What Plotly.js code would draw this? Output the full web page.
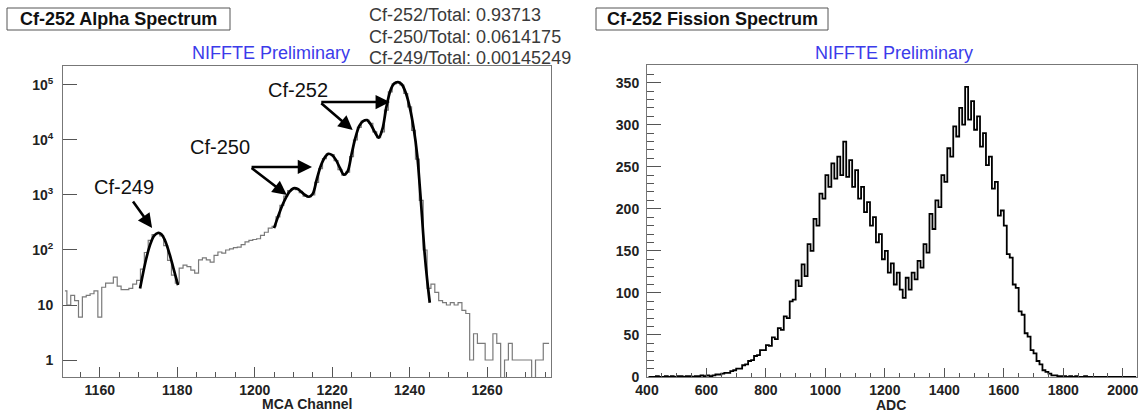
<!DOCTYPE html>
<html>
<head>
<meta charset="utf-8">
<script src="https://cdn.plot.ly/plotly-3.0.1.min.js"></script>
<style>
html,body{margin:0;padding:0;background:#fff;}
#chart{width:1140px;height:417px;}
</style>
</head>
<body>
<div id="chart"></div>
<script>
// ---------------- DATA ----------------
// Alpha spectrum: counts per MCA channel, first bin = 1151
const alphaFirstChannel = 1151;
const alphaCounts = [
  18, 10, 15, 12, 6, 14, 15, 16, 18, 6,
  21, 25, 25, 32, 22, 19, 19, 20, 24, 28,
  45, 90, 150, 190, 200, 180, 120, 65, 35, 25,
  47, 53, 50, 43, 38, 66, 72, 66, 60, 80,
  92, 88, 100, 105, 110, 113, 125, 140, 150, 155,
  160, 185, 210, 250, 270, 400, 650, 950, 1200, 1300,
  1250, 1100, 950, 920, 1000, 1700, 3000, 4600, 5600, 5400,
  4200, 2900, 2300, 2600, 5000, 10000, 17000, 22000, 23000, 20000,
  14000, 11000, 14000, 35000, 75000, 105000, 113000, 100000, 70000, 40000,
  15000, 4500, 800, 100, 20, 24, 17, 12, 11, 10,
  11, 10, 11, 8, 7, 1, 3, 2, 2, 1,
  1, 3, 2, 0, 1, 2, 1, 1, 1, 1,
  1, 0, 1, 1, 2, 2
];
// Fit curves (black)
const fit249Channel = [1170.4, 1171, 1172, 1173, 1174, 1175, 1175.5, 1176, 1177, 1178, 1179, 1180.2];
const fit249Counts  = [20, 33, 70, 125, 180, 203, 202, 190, 140, 85, 47, 23];
const fitMainChannel = [1205, 1206, 1207, 1208, 1209, 1210, 1211, 1212, 1213, 1214, 1215, 1216, 1217, 1218, 1219, 1220,
  1221, 1222, 1223, 1224, 1225, 1226, 1227, 1228, 1229, 1230, 1231, 1232, 1233, 1234, 1235, 1236, 1237, 1238,
  1239, 1240, 1241, 1242, 1242.6, 1243.2, 1243.8, 1244.5, 1245.2];
const fitMainCounts = [250, 400, 620, 880, 1150, 1320, 1300, 1150, 1000, 930, 1050, 1900, 3300, 4700, 5600, 5300,
  4300, 3100, 2350, 2700, 5500, 11000, 18000, 22000, 23000, 19000, 14000, 11000, 16000, 40000, 78000, 106000, 113000, 102000,
  72000, 40000, 17000, 5000, 1500, 400, 100, 30, 11];

// Fission spectrum: counts per 10-ADC bin, first bin starts at 400
const fissionFirstEdge = 400;
const fissionBinWidth = 10;
const fissionCounts = [
  0, 0, 0, 1, 0, 0, 1, 0, 1, 0, 1, 1, 0, 1, 1, 0, 1, 1, 2, 1,
  2, 1, 2, 3, 3, 4, 5, 5, 7, 8,
  10, 10, 14, 15, 19, 20, 25, 26, 32, 32,
  38, 37, 47, 45, 58, 56, 72, 70, 90, 92,
  115, 108, 134, 120, 158, 150, 188, 180, 218, 212,
  240, 226, 254, 236, 262, 240, 280, 238, 258, 226,
  246, 212, 226, 196, 208, 180, 190, 160, 170, 140,
  150, 124, 135, 110, 124, 104, 94, 118, 104, 124,
  116, 138, 130, 158, 148, 194, 176, 210, 202, 240,
  232, 272, 262, 298, 286, 320, 300, 345, 306, 328,
  294, 310, 274, 290, 252, 262, 224, 232, 192, 198,
  180, 146, 142, 110, 106, 78, 74, 52, 48, 32,
  28, 19, 15, 8, 6, 4, 2, 2, 1, 1,
  1, 0, 1, 0, 1, 0, 0, 1, 0, 0,
  0, 0, 0, 0, 0, 0, 0, 0, 0, 0, 0, 0, 0, 0, 0
];

const alphaTickVals = [1, 10, 100, 1000, 10000, 100000];
const alphaTickText = ['1', '10', '10<sup>2</sup>', '10<sup>3</sup>', '10<sup>4</sup>', '10<sup>5</sup>'];
const ratioLines = ['Cf-252/Total: 0.93713', 'Cf-250/Total: 0.0614175', 'Cf-249/Total: 0.00145249'];
const peakLabels = ['Cf-249', 'Cf-250', 'Cf-252'];

// ---------------- BUILD ----------------
const W = 1140, H = 417;
const px = v => v / W;
const py = v => 1 - v / H;

const alphaX = alphaCounts.map((_, i) => alphaFirstChannel + i);
const alphaY = alphaCounts.map(v => Math.max(v, 0.3)); // empty bins drawn to axis floor on log scale

const fissionX = fissionCounts.map((_, i) => fissionFirstEdge + fissionBinWidth * (i + 0.5));

// log-axis minor tick positions (2..9 per decade)
const alphaMinorVals = [];
for (let d = 0.1; d < 1e6; d *= 10) for (let k = 2; k <= 9; k++) alphaMinorVals.push(+(k * d).toPrecision(3));

const FONT = 'Liberation Sans, Arial, Helvetica, sans-serif';

const traces = [
  {x: alphaX, y: alphaY, type: 'scatter', mode: 'lines', line: {shape: 'hvh', color: '#7a7a7a', width: 1.2},
   xaxis: 'x', yaxis: 'y', hoverinfo: 'skip'},
  {x: fit249Channel, y: fit249Counts, type: 'scatter', mode: 'lines', line: {shape: 'spline', smoothing: 0.8, color: '#000', width: 2.7},
   xaxis: 'x', yaxis: 'y'},
  {x: fitMainChannel, y: fitMainCounts, type: 'scatter', mode: 'lines', line: {shape: 'spline', smoothing: 0.8, color: '#000', width: 2.7},
   xaxis: 'x', yaxis: 'y'},
  {x: fissionX, y: fissionCounts, type: 'scatter', mode: 'lines', line: {shape: 'hvh', color: '#000', width: 1.8},
   xaxis: 'x2', yaxis: 'y2'}
];

const tickFontBold = {family: FONT, size: 14, color: '#222', weight: 'bold'};
const axisCommon = {
  showgrid: false, zeroline: false, showline: true, mirror: true,
  linecolor: '#777', linewidth: 1, ticks: 'inside', tickcolor: '#555', tickwidth: 1,
  tickfont: tickFontBold
};

const layout = {
  width: W, height: H,
  margin: {l: 0, r: 0, t: 0, b: 0},
  paper_bgcolor: '#fff', plot_bgcolor: '#fff',
  showlegend: false,
  font: {family: FONT},
  xaxis: Object.assign({}, axisCommon, {
    domain: [px(63), px(551)], range: [1150.5, 1276.5], anchor: 'y',
    tickmode: 'linear', tick0: 1160, dtick: 20, ticklen: 10,
    minor: {tickmode: 'linear', tick0: 1150, dtick: 5, ticks: 'inside', ticklen: 5, tickcolor: '#555'}
  }),
  yaxis: Object.assign({}, axisCommon, {
    type: 'log', domain: [1 - 377 / H, 1 - 66 / H], range: [-0.309, 5.345], anchor: 'x',
    tickmode: 'array', tickvals: alphaTickVals, ticktext: alphaTickText, ticklen: 14,
    ticklabelstandoff: 6
  }),
  // overlay axis carrying only the log minor ticks
  yaxis3: {
    type: 'log', overlaying: 'y', anchor: 'x', side: 'left', range: [-0.309, 5.345],
    tickmode: 'array', tickvals: alphaMinorVals, ticks: 'inside', ticklen: 7, tickcolor: '#555', tickwidth: 1,
    showticklabels: false, showline: false, showgrid: false, zeroline: false
  },
  xaxis2: Object.assign({}, axisCommon, {
    domain: [px(647), px(1137)], range: [400, 2048], anchor: 'y2',
    tickmode: 'linear', tick0: 400, dtick: 200, ticklen: 9,
    minor: {tickmode: 'linear', tick0: 400, dtick: 50, ticks: 'inside', ticklen: 4, tickcolor: '#555'}
  }),
  yaxis2: Object.assign({}, axisCommon, {
    domain: [1 - 377 / H, 1 - 65 / H], range: [0, 371], anchor: 'x2',
    tickmode: 'linear', tick0: 0, dtick: 50, ticklen: 14,
    ticklabelstandoff: 4,
    minor: {tickmode: 'linear', tick0: 0, dtick: 10, ticks: 'inside', ticklen: 7, tickcolor: '#555'}
  }),
  shapes: [
    {type: 'rect', xref: 'paper', yref: 'paper', x0: px(7), x1: px(230), y0: py(30), y1: py(8),
     line: {color: '#555', width: 1}, fillcolor: '#fff'},
    {type: 'rect', xref: 'paper', yref: 'paper', x0: px(596), x1: px(828), y0: py(30), y1: py(8),
     line: {color: '#555', width: 1}, fillcolor: '#fff'}
  ],
  annotations: []
};

const A = layout.annotations;
const paperText = (text, x, y, opts) => A.push(Object.assign({
  text: text, xref: 'paper', yref: 'paper', x: px(x), y: py(y), showarrow: false,
  xanchor: 'center', yanchor: 'middle', font: {family: FONT, size: 18, color: '#222'}
}, opts || {}));

paperText('<b>Cf-252 Alpha Spectrum</b>', 118.5, 19, {font: {family: FONT, size: 18, color: '#111'}});
paperText('<b>Cf-252 Fission Spectrum</b>', 712, 19, {font: {family: FONT, size: 18, color: '#111'}});
ratioLines.forEach((t, i) => paperText(t, 367, 15 + i * 21.5, {xanchor: 'left', font: {family: FONT, size: 18, color: '#3a3a3a'}}));
paperText('NIFFTE Preliminary', 271, 53, {font: {family: FONT, size: 18, color: '#3b3bea'}});
paperText('NIFFTE Preliminary', 894, 53, {font: {family: FONT, size: 18, color: '#3b3bea'}});
paperText('<b>MCA Channel</b>', 307, 404, {font: {family: FONT, size: 14, color: '#222'}});
paperText('<b>ADC</b>', 891, 405, {font: {family: FONT, size: 14, color: '#222'}});

// Peak labels and arrows (data coordinates: channel, log10 counts)
const labelFont = {family: FONT, size: 20, color: '#111'};
A.push({text: peakLabels[0], xref: 'x', yref: 'y', x: 1166.2, y: 3.15, showarrow: false, font: labelFont});
A.push({text: peakLabels[1], xref: 'x', yref: 'y', x: 1191.0, y: 3.87, showarrow: false, font: labelFont});
A.push({text: peakLabels[2], xref: 'x', yref: 'y', x: 1211.1, y: 4.91, showarrow: false, font: labelFont});
const arrow = (hx, hy, tx, ty) => A.push({
  text: '', xref: 'x', yref: 'y', axref: 'x', ayref: 'y', x: hx, y: hy, ax: tx, ay: ty,
  showarrow: true, arrowhead: 2, arrowsize: 1.1, arrowwidth: 2.6, arrowcolor: '#000', standoff: 0, startstandoff: 0
});
arrow(1173.5, 2.4, 1168.3, 2.91);
arrow(1208.3, 3.0, 1198.8, 3.51);
arrow(1214.8, 3.51, 1198.8, 3.51);
arrow(1234.9, 4.69, 1216.8, 4.69);
arrow(1225.3, 4.18, 1216.8, 4.69);

Plotly.newPlot('chart', traces, layout, {staticPlot: true, displayModeBar: false});
</script>
</body>
</html>
